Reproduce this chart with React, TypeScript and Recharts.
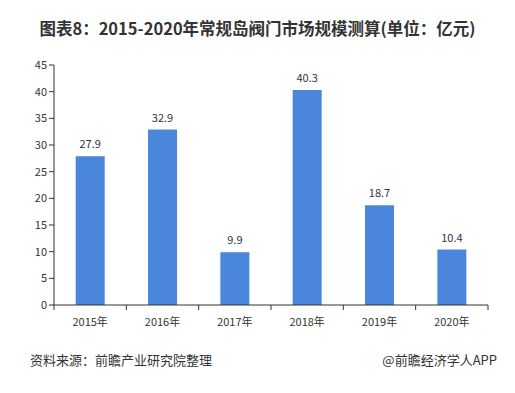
import { BarChart, Bar, XAxis, YAxis, LabelList } from 'recharts'

const years = ['2015年', '2016年', '2017年', '2018年', '2019年', '2020年']
const sizes = [27.9, 32.9, 9.9, 40.3, 18.7, 10.4]
const yTicks = [0, 5, 10, 15, 20, 25, 30, 35, 40, 45]

const data = years.map((year, i) => ({ year, value: sizes[i] }))

const FONT = '"Microsoft YaHei", "Noto Sans CJK SC", sans-serif'
const LEFT = 54
const RIGHT = 27
const W = 515
const band = (W - LEFT - RIGHT) / years.length

// category tick: label at centre, tick marks at band edges
function YearTick(props: any) {
  const { x, y, payload, index } = props
  const left = x - band / 2
  return (
    <g>
      <line x1={left} y1={y - 8} x2={left} y2={y - 3} stroke="#333" />
      {index === years.length - 1 && (
        <line x1={x + band / 2} y1={y - 8} x2={x + band / 2} y2={y - 3} stroke="#333" />
      )}
      <text x={x} y={y + 13} textAnchor="middle" fill="#333" fontSize={11} fontFamily={FONT}>
        {payload.value}
      </text>
    </g>
  )
}

export default function App() {
  return (
    <div style={{ position: 'absolute', left: 0, top: 0, width: 515, height: 393, background: '#fff', fontFamily: FONT }}>
      <div style={{ position: 'absolute', top: 16, left: 0, width: 515, textAlign: 'center', fontSize: 16.5, fontWeight: 'bold', color: '#333' }}>
        图表8：2015-2020年常规岛阀门市场规模测算(单位：亿元)
      </div>
      <BarChart width={515} height={393} data={data} margin={{ top: 65, right: RIGHT, bottom: 58, left: 0 }} barCategoryGap="30%">
        <XAxis
          dataKey="year"
          height={30}
          tickLine={false}
          axisLine={{ stroke: '#333' }}
          tick={<YearTick />}
          interval={0}
        />
        <YAxis
          width={LEFT}
          domain={[0, 45]}
          ticks={yTicks}
          interval={0}
          tickSize={5}
          tickLine={{ stroke: '#333' }}
          axisLine={{ stroke: '#333' }}
          tick={{ fill: '#333', fontSize: 11, fontFamily: FONT }}
        />
        <Bar dataKey="value" fill="#4a86dc" isAnimationActive={false}>
          <LabelList dataKey="value" position="top" offset={8} fill="#333" fontSize={11} fontFamily={FONT} />
        </Bar>
      </BarChart>
      <div style={{ position: 'absolute', top: 350, left: 30, fontSize: 13, color: '#333' }}>资料来源：前瞻产业研究院整理</div>
      <div style={{ position: 'absolute', top: 350, right: 18, fontSize: 13, color: '#333' }}>@前瞻经济学人APP</div>
    </div>
  )
}
